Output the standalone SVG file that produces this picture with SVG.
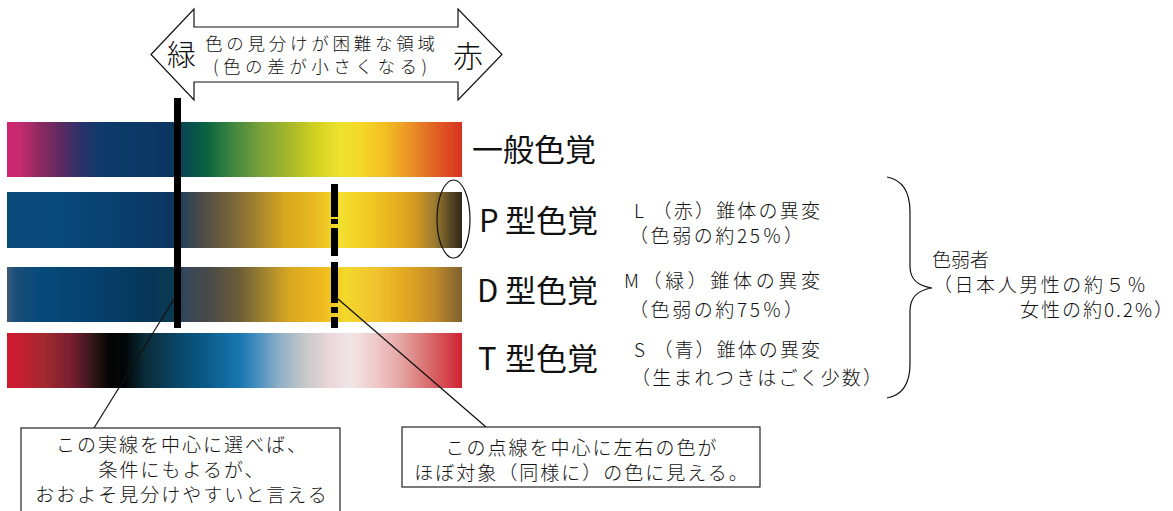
<svg xmlns="http://www.w3.org/2000/svg" width="1173" height="511" viewBox="0 0 1173 511">
<style>
text{font-family:"Noto Sans CJK JP","Noto Sans",sans-serif;fill:#111;font-weight:300}
.thin{fill:none;stroke:#111;stroke-width:1.2}
.lbl{font-size:31px;font-weight:400}
.note{font-size:19px}
.box{fill:#fff;stroke:#222;stroke-width:1.2}
.bt{font-size:19px;letter-spacing:2px;text-anchor:middle}
.mk{fill:#000}
</style>
<defs>
<linearGradient id="gN" x1="0" y1="0" x2="1" y2="0">
<stop offset="0" stop-color="#cf2672"/><stop offset="0.029" stop-color="#c52a6e"/><stop offset="0.073" stop-color="#8c2a60"/><stop offset="0.12" stop-color="#5a2a62"/><stop offset="0.16" stop-color="#2e326a"/><stop offset="0.204" stop-color="#0e3a6c"/><stop offset="0.29" stop-color="#0a3966"/><stop offset="0.358" stop-color="#0b3560"/><stop offset="0.40" stop-color="#0a4e50"/><stop offset="0.44" stop-color="#0a6440"/><stop offset="0.49" stop-color="#3a8440"/><stop offset="0.556" stop-color="#78a03a"/><stop offset="0.622" stop-color="#a8b828"/><stop offset="0.677" stop-color="#d0d020"/><stop offset="0.732" stop-color="#eee22e"/><stop offset="0.776" stop-color="#f5d828"/><stop offset="0.831" stop-color="#f3be22"/><stop offset="0.886" stop-color="#ea9226"/><stop offset="0.93" stop-color="#e26a24"/><stop offset="1" stop-color="#d83220"/>
</linearGradient>
<linearGradient id="gP" x1="0" y1="0" x2="1" y2="0">
<stop offset="0" stop-color="#0a4a7a"/><stop offset="0.116" stop-color="#07497a"/><stop offset="0.248" stop-color="#093f6e"/><stop offset="0.358" stop-color="#0c3660"/><stop offset="0.39" stop-color="#2a4258"/><stop offset="0.424" stop-color="#4a4a48"/><stop offset="0.479" stop-color="#6e5e3c"/><stop offset="0.545" stop-color="#a08030"/><stop offset="0.611" stop-color="#d8a820"/><stop offset="0.677" stop-color="#eab820"/><stop offset="0.732" stop-color="#f3e02e"/><stop offset="0.787" stop-color="#f2cc22"/><stop offset="0.853" stop-color="#e8b020"/><stop offset="0.897" stop-color="#d49a22"/><stop offset="0.941" stop-color="#9a7a30"/><stop offset="0.974" stop-color="#5a4824"/><stop offset="1" stop-color="#2e2616"/>
</linearGradient>
<linearGradient id="gD" x1="0" y1="0" x2="1" y2="0">
<stop offset="0" stop-color="#3e5a78"/><stop offset="0.018" stop-color="#1c4e78"/><stop offset="0.073" stop-color="#064a7a"/><stop offset="0.204" stop-color="#063f6c"/><stop offset="0.314" stop-color="#063658"/><stop offset="0.363" stop-color="#0a3a50"/><stop offset="0.391" stop-color="#36465a"/><stop offset="0.446" stop-color="#4a4a48"/><stop offset="0.512" stop-color="#6e5e38"/><stop offset="0.56" stop-color="#9a8030"/><stop offset="0.622" stop-color="#d8a820"/><stop offset="0.688" stop-color="#f0b820"/><stop offset="0.743" stop-color="#f3d82a"/><stop offset="0.809" stop-color="#f0c430"/><stop offset="0.875" stop-color="#e4a820"/><stop offset="0.941" stop-color="#c08a2a"/><stop offset="1" stop-color="#7e6030"/>
</linearGradient>
<linearGradient id="gT" x1="0" y1="0" x2="1" y2="0">
<stop offset="0" stop-color="#d01a30"/><stop offset="0.04" stop-color="#c02030"/><stop offset="0.084" stop-color="#a02a30"/><stop offset="0.138" stop-color="#7a2030"/><stop offset="0.171" stop-color="#501828"/><stop offset="0.193" stop-color="#2a1614"/><stop offset="0.226" stop-color="#040404"/><stop offset="0.259" stop-color="#020608"/><stop offset="0.303" stop-color="#0a2c38"/><stop offset="0.37" stop-color="#0a4464"/><stop offset="0.435" stop-color="#0a5a88"/><stop offset="0.512" stop-color="#1a76b0"/><stop offset="0.552" stop-color="#4a90c0"/><stop offset="0.6" stop-color="#90b0c6"/><stop offset="0.655" stop-color="#c6c8ca"/><stop offset="0.71" stop-color="#ecd6d8"/><stop offset="0.754" stop-color="#f0e6e6"/><stop offset="0.809" stop-color="#f0caca"/><stop offset="0.864" stop-color="#e4a6a4"/><stop offset="0.93" stop-color="#d86a6a"/><stop offset="1" stop-color="#d02232"/>
</linearGradient>
</defs>
<rect width="1173" height="511" fill="#fff"/>

<g id="arrow">
<polygon class="thin" style="fill:#fff" points="151,54.5 194,9 194,27 458,27 458,9 502,54.5 458,100 458,82 194,82 194,100"/>
<text x="167" y="66" font-size="29" font-weight="400">緑</text>
<text x="453" y="67" font-size="30" font-weight="400">赤</text>
<text x="205" y="50" font-size="17.5" textLength="230" lengthAdjust="spacing">色の見分けが困難な領域</text>
<text x="213" y="73" font-size="17.5" textLength="214" lengthAdjust="spacing">(色の差が小さくなる)</text>
</g>

<g id="bar-normal">
<rect x="7" y="122" width="455" height="55" fill="url(#gN)"/>
<text class="lbl" x="472" y="161">一般色覚</text>
</g>
<g id="bar-P">
<rect x="7" y="192" width="455" height="56" fill="url(#gP)"/>
<ellipse class="thin" cx="453.5" cy="219" rx="16.5" ry="39"/>
<text class="lbl" y="232"><tspan x="479">P</tspan><tspan x="505">型色覚</tspan></text>
<text class="note" x="634" y="218" textLength="186" lengthAdjust="spacing">L （赤）錐体の異変</text>
<text class="note" x="629" y="243" textLength="174" lengthAdjust="spacing">（色弱の約25％）</text>
</g>
<g id="bar-D">
<rect x="7" y="267" width="455" height="55" fill="url(#gD)"/>
<text class="lbl" y="302"><tspan x="477">D</tspan><tspan x="505">型色覚</tspan></text>
<text class="note" x="624" y="288" textLength="196" lengthAdjust="spacing">M（緑）錐体の異変</text>
<text class="note" x="629" y="317" textLength="174" lengthAdjust="spacing">（色弱の約75％）</text>
</g>
<g id="bar-T">
<rect x="7" y="333" width="455" height="55" fill="url(#gT)"/>
<text class="lbl" y="370"><tspan x="478">T</tspan><tspan x="505">型色覚</tspan></text>
<text class="note" x="634" y="357" textLength="186" lengthAdjust="spacing">S （青）錐体の異変</text>
<text class="note" x="631" y="385" textLength="251" lengthAdjust="spacing">（生まれつきはごく少数）</text>
</g>

<g id="markers">
<rect class="mk" x="174" y="98" width="7" height="230"/>
<rect class="mk" x="331" y="184" width="7" height="33"/>
<rect class="mk" x="331" y="219" width="7" height="5"/>
<rect class="mk" x="331" y="228" width="7" height="28"/>
<rect class="mk" x="331" y="262" width="7" height="41"/>
<rect class="mk" x="331" y="307" width="7" height="6"/>
<rect class="mk" x="331" y="317" width="7" height="11"/>
</g>

<g id="group-brace">
<path class="thin" d="M887,177 C903,180 910,192 910,212 L910,266 C910,280 918,286 932,288 C918,290 910,297 910,311 L910,364 C910,384 903,395 887,398"/>
<text x="932" y="267" font-size="19">色弱者</text>
<text x="933" y="292" font-size="19" textLength="213" lengthAdjust="spacing">（日本人男性の約５％</text>
<text x="1020" y="317" font-size="19" textLength="153" lengthAdjust="spacing">女性の約0.2%）</text>
</g>

<g id="connectors">
<line class="thin" x1="174" y1="299" x2="94" y2="428"/>
<line class="thin" x1="338" y1="299" x2="486" y2="427"/>
</g>

<g id="callout-solid">
<rect class="box" x="21" y="428" width="319" height="90"/>
<text class="bt" x="182" y="452">この実線を中心に選べば、</text>
<text class="bt" x="182" y="477">条件にもよるが、</text>
<text class="bt" x="182" y="502">おおよそ見分けやすいと言える</text>
</g>
<g id="callout-dashed">
<rect class="box" x="402" y="427" width="358" height="60"/>
<text class="bt" x="582" y="455">この点線を中心に左右の色が</text>
<text class="bt" x="582" y="480">ほぼ対象（同様に）の色に見える。</text>
</g>
</svg>
